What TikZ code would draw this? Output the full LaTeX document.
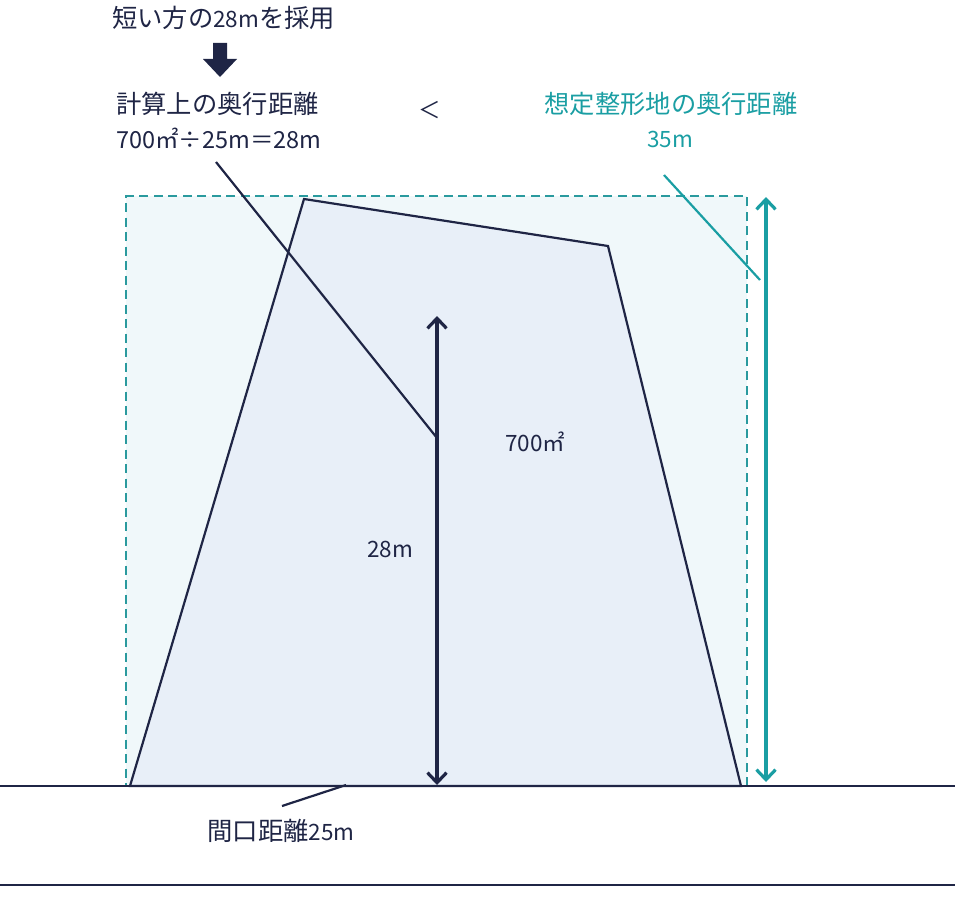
\documentclass[tikz,border=0pt]{standalone}
\usepackage{fontspec}
\setmainfont{Noto Sans CJK JP}
\usetikzlibrary{arrows.meta}
\definecolor{navy}{HTML}{1F2545}
\definecolor{teal1}{HTML}{1A9EA3}
\definecolor{tealdash}{HTML}{2A9A9E}
\definecolor{rectfill}{HTML}{F0F8FA}
\definecolor{polyfill}{HTML}{E8EFF8}
\newcommand\Jp[1]{{\fontsize{25.3}{28}\selectfont #1}}
\tikzset{
  lbl/.style={inner sep=0pt, text=navy, font=\fontsize{22.5}{26}\selectfont},
  tlbl/.style={inner sep=0pt, text=teal1, font=\fontsize{22.5}{26}\selectfont},
  dimarrow/.style={line width=3.2pt, navy, {Straight Barb[length=10pt,width=19pt,line width=3.2pt]}-{Straight Barb[length=10pt,width=19pt,line width=3.2pt]}},
  tdimarrow/.style={line width=3.2pt, teal1, {Straight Barb[length=10pt,width=19pt,line width=3.2pt]}-{Straight Barb[length=10pt,width=19pt,line width=3.2pt]}},
  leader/.style={line width=2.2pt, navy},
  tleader/.style={line width=2.2pt, teal1},
  ground/.style={line width=2.4pt, navy},
}
\begin{document}
\begin{tikzpicture}[x=1pt,y=-1pt]
\useasboundingbox (0,0) rectangle (955,899);
% assumed rectangular plot
\draw[tealdash, fill=rectfill, line width=2.2pt, dash pattern=on 9pt off 5.5pt] (747,786) -- (747,196) -- (126,196) -- (126,786);
% actual plot
\draw[navy, fill=polyfill, line width=2.2pt, line join=miter] (130,786) -- (304,199) -- (608,246) -- (741,786) -- cycle;
% ground lines
\coordinate (g1) at (0,786); \coordinate (g2) at (955,786);
\coordinate (h1) at (0,885); \coordinate (h2) at (955,885);
\draw[ground] (g1) -- (g2);
\draw[ground] (h1) -- (h2);
% dimension arrows
\coordinate (a1) at (437,316); \coordinate (a2) at (437,785);
\draw[dimarrow] (a2) -- (a1);
\coordinate (b1) at (766,197); \coordinate (b2) at (766,782);
\draw[tdimarrow] (b2) -- (b1);
% texts
\node[lbl, anchor=west] (top) at (112,18) {\Jp{短い方の}28m\Jp{を採用}};
\node[lbl, anchor=west] (calc) at (116,104) {\Jp{計算上の奥行距離}};
\node[lbl, anchor=west, font=\fontsize{23.5}{26}\selectfont] (calcv) at (116,138) {700㎡÷25m＝28m};
\node[lbl] (lt) at (430,110) {＜};
\node[tlbl] (ass) at (671,104) {\Jp{想定整形地の奥行距離}};
\node[tlbl] (assv) at (670,139) {35m};
\node[lbl] (area) at (535,442) {700㎡};
\node[lbl] (d28) at (390,549) {28m};
\node[lbl] (front) at (281,831) {\Jp{間口距離}25m};
% thick down arrow
\fill[navy] (213,43) -- (227,43) -- (227,59) -- (237,59) -- (220,77) -- (203,59) -- (213,59) -- cycle;
% leaders
\coordinate (l1s) at (216,162); \coordinate (l1e) at (437,438);
\draw[leader] (l1s) -- (l1e);
\coordinate (l2s) at (664,175); \coordinate (l2e) at (760,280);
\draw[tleader] (l2s) -- (l2e);
\coordinate (l3s) at (282,806); \coordinate (l3e) at (346,785);
\draw[leader] (l3s) -- (l3e);
\end{tikzpicture}
\end{document}
